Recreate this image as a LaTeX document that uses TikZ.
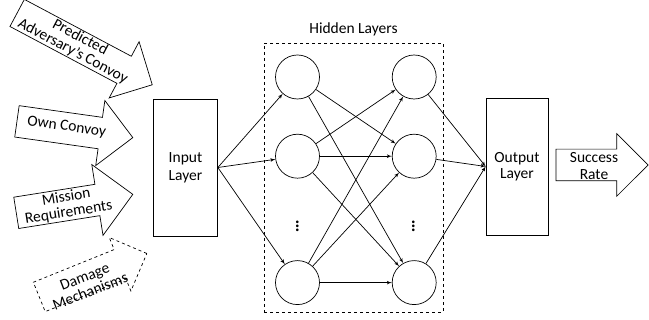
\documentclass[tikz,border=0pt]{standalone}
\usepackage{fontspec}
\setmainfont{Carlito}
\usetikzlibrary{shapes, shapes.arrows, positioning, arrows}
\colorlet{drawColor}{black}
\tikzstyle{layerBox}=[rectangle, align=center, draw=drawColor, fill=white,
minimum width=64pt, minimum height=137pt]
\tikzstyle{neuron}=[circle, draw=drawColor, minimum size=44pt, inner sep=0pt]
\tikzstyle{fArrow}=[single arrow, draw=drawColor, inner sep=0pt, anchor=tip,
text height=15.5pt, text depth=15.5pt, single arrow head extend=16pt]
\tikzstyle{arrowTxt}=[align=center, inner sep=0pt, font=\fontsize{15.5}{15.5}\selectfont]
\tikzstyle{link}=[->, >=latex', draw=black]
\tikzstyle{dotsTxt}=[font=\fontsize{22}{22}\selectfont\boldmath]

\begin{document}
\begin{tikzpicture}[x=1pt, y=-1pt, line width=0.7pt, font=\fontsize{15.5}{16.5}\selectfont]
      \useasboundingbox (0,0) rectangle (649,320);
      % input arrows
      \node(inPred) [fArrow, rotate=-28, minimum height=153pt, text height=15pt,
      text depth=15pt, single arrow head extend=16.5pt] at (152.7,85) {};
      \node(txtPred) [arrowTxt, rotate=-28] at (76.5,44.5) {Predicted\\Adversary’s Convoy};
      \node(inOwn) [fArrow, rotate=-8, minimum height=117pt,
      single arrow head extend=17pt] at (133.3,137.7) {};
      \node(txtOwn) [arrowTxt, rotate=-8] at (66.7,127) {Own Convoy};
      \node(inMission) [fArrow, rotate=9, minimum height=118pt,
      single arrow head extend=20pt] at (133.3,194.3) {};
      \node(txtMission) [arrowTxt, rotate=9] at (67.5,205) {Mission\\Requirements};
      \node(inDamage) [fArrow, dashed, rotate=22, minimum height=116pt,
      single arrow head extend=13pt] at (147.3,253.3) {};
      \node(txtDamage) [arrowTxt, rotate=21] at (87.5,284) {Damage\\Mechanisms};
      % layers
      \node(inputL) [layerBox, font=\fontsize{15.5}{18}\selectfont] at (185.5,167.5) {Input\\Layer};
      \node(hidBox) [rectangle, draw=drawColor, dashed, minimum width=179pt,
      minimum height=269pt] at (353.5,177.5) {};
      \node(hidLabel) [above=3pt of hidBox] {Hidden Layers};
      \node(h11) [neuron] at (297.5,77) {};
      \node(h12) [neuron, below=34.5pt of h11] {};
      \node(h13) [neuron, below=81.7pt of h12] {};
      \node(h21) [neuron, right=72pt of h11] {};
      \node(h22) [neuron, right=72pt of h12] {};
      \node(h23) [neuron, right=72pt of h13] {};
      \node(dots1) [dotsTxt] at (297.5,223) {$\vdots$};
      \node(dots2) [dotsTxt] at (413.5,223) {$\vdots$};
      \node(outputL) [layerBox, minimum width=62pt] at (517,166.5) {Output\\Layer};
      \node(outSuccess) [fArrow, minimum height=92pt,
      single arrow head extend=15.5pt] at (648.5,165) {};
      \node(txtSuccess) [arrowTxt, font=\fontsize{15.5}{16.5}\selectfont] at (594,166) {Success\\Rate};
      % connections
      \foreach \n in {h11,h12,h13}
        \draw [link] (inputL.east) -- (\n);
      \foreach \a/\b in {h11/h22, h11/h23, h12/h21, h12/h22, h12/h23,
        h13/h21, h13/h22, h13/h23}
        \draw [link] (\a) -- (\b);
      \foreach \n in {h21,h22,h23}
        \draw [link] (\n) -- (outputL.west);
\end{tikzpicture}
\end{document}
